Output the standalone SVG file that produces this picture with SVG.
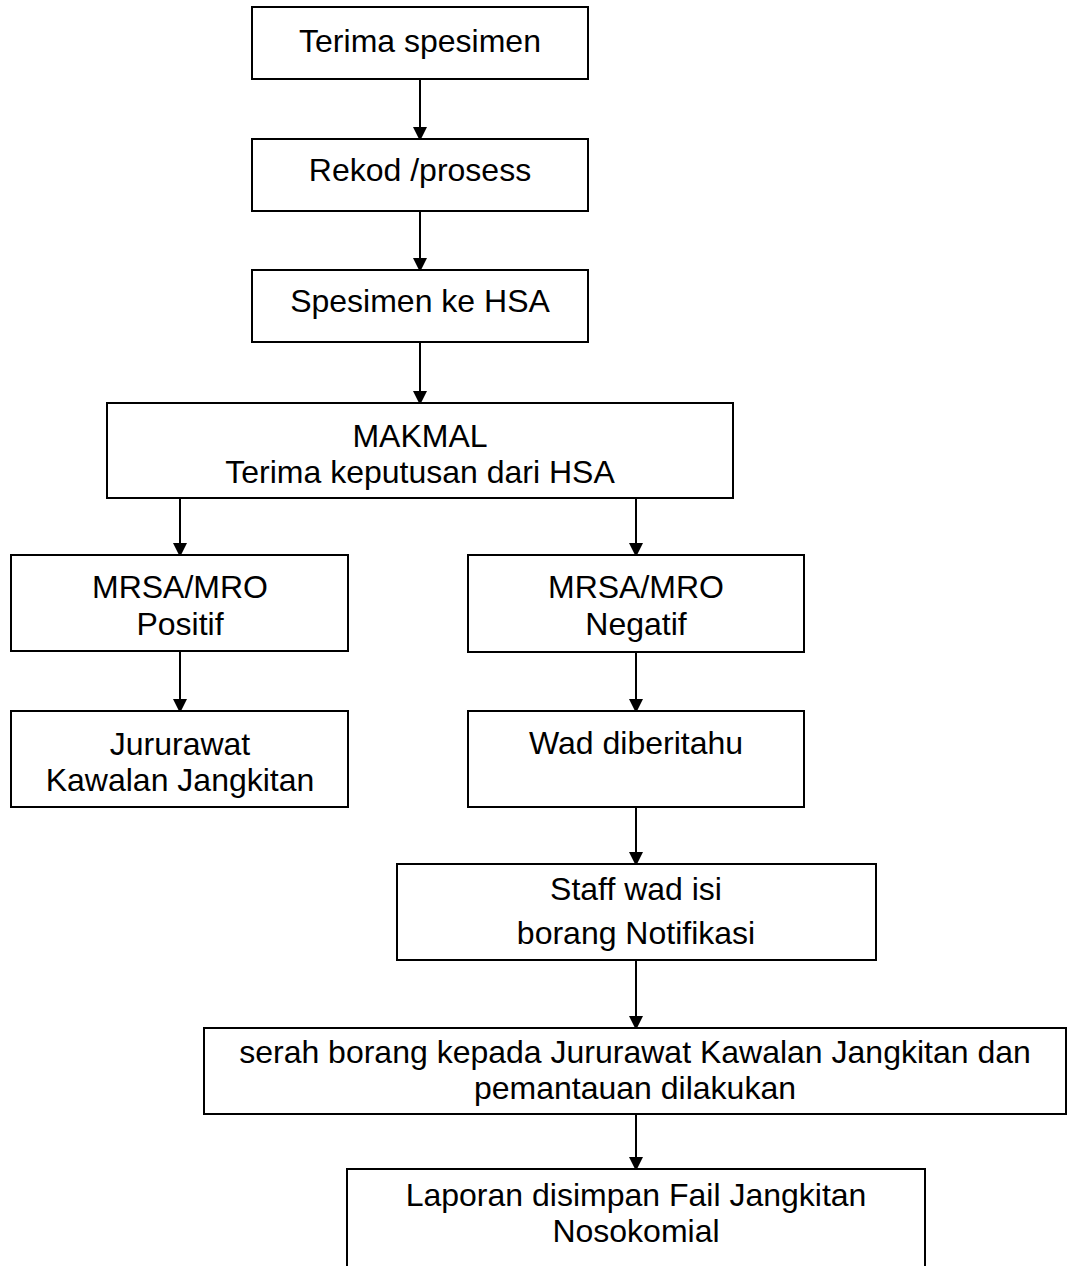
<svg xmlns="http://www.w3.org/2000/svg" width="1070" height="1266" viewBox="0 0 1070 1266">
<style>
.box{fill:#fff;stroke:#000;stroke-width:2}
.t{font-family:"Liberation Sans",Arial,sans-serif;font-size:32px;fill:#000;text-anchor:middle}
.c{stroke:#000;stroke-width:2;fill:none;marker-end:url(#ah)}
</style>
<defs>
<marker id="ah" markerWidth="14" markerHeight="14" refX="13" refY="7" orient="auto" markerUnits="userSpaceOnUse">
<path d="M0,0 L14,7 L0,14 Z" fill="#000"/>
</marker>
</defs>
<rect width="1070" height="1266" fill="#fff"/>
<g id="connectors">
<line class="c" x1="420" y1="79" x2="420" y2="140"/>
<line class="c" x1="420" y1="211" x2="420" y2="271"/>
<line class="c" x1="420" y1="342" x2="420" y2="404"/>
<line class="c" x1="180" y1="498" x2="180" y2="556"/>
<line class="c" x1="636" y1="498" x2="636" y2="556"/>
<line class="c" x1="180" y1="651" x2="180" y2="712"/>
<line class="c" x1="636" y1="652" x2="636" y2="712"/>
<line class="c" x1="636" y1="807" x2="636" y2="865"/>
<line class="c" x1="636" y1="960" x2="636" y2="1029"/>
<line class="c" x1="636" y1="1114" x2="636" y2="1170"/>
</g>
<g id="n1"><rect class="box" x="252" y="7" width="336" height="72"/><text class="t" x="420" y="52">Terima spesimen</text></g>
<g id="n2"><rect class="box" x="252" y="139" width="336" height="72"/><text class="t" x="420" y="181">Rekod /prosess</text></g>
<g id="n3"><rect class="box" x="252" y="270" width="336" height="72"/><text class="t" x="420" y="312">Spesimen ke HSA</text></g>
<g id="n4"><rect class="box" x="107" y="403" width="626" height="95"/><text class="t" x="420" y="447">MAKMAL</text><text class="t" x="420" y="483">Terima keputusan dari HSA</text></g>
<g id="n5"><rect class="box" x="11" y="555" width="337" height="96"/><text class="t" x="180" y="598">MRSA/MRO</text><text class="t" x="180" y="635">Positif</text></g>
<g id="n6"><rect class="box" x="468" y="555" width="336" height="97"/><text class="t" x="636" y="598">MRSA/MRO</text><text class="t" x="636" y="635">Negatif</text></g>
<g id="n7"><rect class="box" x="11" y="711" width="337" height="96"/><text class="t" x="180" y="755">Jururawat</text><text class="t" x="180" y="791">Kawalan Jangkitan</text></g>
<g id="n8"><rect class="box" x="468" y="711" width="336" height="96"/><text class="t" x="636" y="754">Wad diberitahu</text></g>
<g id="n9"><rect class="box" x="397" y="864" width="479" height="96"/><text class="t" x="636" y="900">Staff wad isi</text><text class="t" x="636" y="944">borang Notifikasi</text></g>
<g id="n10"><rect class="box" x="204" y="1028" width="862" height="86"/><text class="t" x="635" y="1063">serah borang kepada Jururawat Kawalan Jangkitan dan</text><text class="t" x="635" y="1099">pemantauan dilakukan</text></g>
<g id="n11"><rect class="box" x="347" y="1169" width="578" height="110"/><text class="t" x="636" y="1206">Laporan disimpan Fail Jangkitan</text><text class="t" x="636" y="1242">Nosokomial</text></g>
</svg>
